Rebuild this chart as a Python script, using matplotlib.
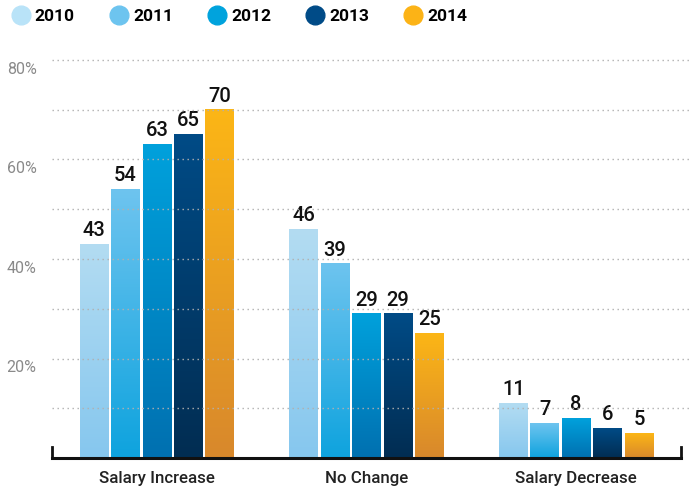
import matplotlib
matplotlib.use('Agg')
import matplotlib.pyplot as plt
import numpy as np
from matplotlib.colors import LinearSegmentedColormap
from matplotlib.lines import Line2D
from matplotlib.transforms import ScaledTranslation

categories = ['Salary Increase', 'No Change', 'Salary Decrease']
years = ['2010', '2011', '2012', '2013', '2014']
values = {
    '2010': [43, 46, 11],
    '2011': [54, 39, 7],
    '2012': [63, 29, 8],
    '2013': [65, 29, 6],
    '2014': [70, 25, 5],
}
yticks = [20, 40, 60, 80]
ytick_labels = ['20%', '40%', '60%', '80%']

legend_colors = ['#b9e3f8', '#6dc4ef', '#00a3dd', '#004b87', '#fcb316']
grad_colors = [('#b3dcf2', '#86c7ee'), ('#6ec4ef', '#0ea3de'),
               ('#00a1dc', '#0070b0'), ('#004b86', '#022d52'),
               ('#fcb616', '#d8882c')]

plt.rcParams['font.family'] = ['Roboto', 'DejaVu Sans']

fig = plt.figure(figsize=(6.89, 4.93), dpi=100)
ax = fig.add_axes([52/689, 35/493, 629/689, 398/493])

x = np.arange(len(categories))
pitch = 0.150
width = 0.136
grad = np.linspace(0, 1, 256).reshape(-1, 1)

for i, yr in enumerate(years):
    bars = ax.bar(x + (i - 2) * pitch, values[yr], width, color='none', zorder=2)
    cmap = LinearSegmentedColormap.from_list('g' + yr, [grad_colors[i][1], grad_colors[i][0]])
    for r in bars:
        bx, bw, bh = r.get_x(), r.get_width(), r.get_height()
        ax.imshow(grad, extent=[bx, bx + bw, 0, bh], origin='lower', aspect='auto',
                  cmap=cmap, zorder=2)
    ax.bar_label(bars, padding=3, fontsize=14.5, fontweight='medium', color='#111111')

ax.set_xlim(-0.5, 2.5)
ax.set_ylim(0, 80)

# dotted gridlines every 10%, running to the figure edge
for g in range(10, 90, 10):
    ax.axhline(g, xmin=0, xmax=637/629, color='#b0b0b0', lw=1.0,
               ls=(0, (1, 2.6)), zorder=3, clip_on=False)

for s in ['top', 'right', 'left']:
    ax.spines[s].set_visible(False)
ax.spines['bottom'].set_linewidth(2.2)
ax.spines['bottom'].set_color('#111111')
ax.plot([0, 0], [0, 0.028], transform=ax.transAxes, color='#111111', lw=2, clip_on=False)
ax.plot([1, 1], [0, 0.028], transform=ax.transAxes, color='#111111', lw=2, clip_on=False)

ax.set_xticks(x)
ax.set_xticklabels(categories, fontsize=12.2, fontweight='medium', color='#222222')
ax.tick_params(axis='x', length=0, pad=9)
ax.set_yticks(yticks)
ax.set_yticklabels(ytick_labels, fontsize=11.5, color='#8a8a8a', va='top')
ax.tick_params(axis='y', length=0, pad=11)
shift = ScaledTranslation(0, -2/100, fig.dpi_scale_trans)
for lbl in ax.get_yticklabels():
    lbl.set_transform(lbl.get_transform() + shift)

handles = [Line2D([], [], marker='o', ls='', markersize=13.5, color=c) for c in legend_colors]
fig.legend(handles, years, loc='upper left', bbox_to_anchor=(0.0, 1.0), ncol=5,
           frameon=False, handletextpad=0.1, columnspacing=1.85, borderaxespad=0.1,
           handlelength=1.4, prop={'size': 12.5, 'weight': 'bold'})

fig.savefig('out.png', dpi=100)
